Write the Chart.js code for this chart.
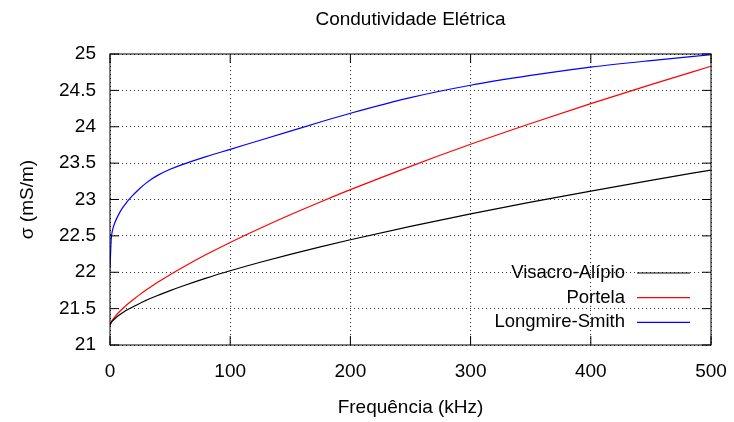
<!DOCTYPE html>
<html>
<head>
<meta charset="utf-8">
<script src="https://cdn.jsdelivr.net/npm/chart.js@4.4.1/dist/chart.umd.min.js"></script>
<style>
  html, body { margin: 0; padding: 0; background: #fff; }
  canvas { display: block; }
</style>
</head>
<body>
<canvas id="chart" width="734" height="422" style="width:734px;height:422px"></canvas>
<script>
"use strict"

// frequencia (kHz) e condutividade (mS/m)
const freq = [0, 1, 2, 4, 8, 12, 16, 20, 25, 30, 35, 40, 50, 60, 80, 100, 125, 150, 175, 200, 250, 300, 350, 400, 450, 500];
const visacroAlipio = [21.27, 21.31, 21.33, 21.36, 21.415, 21.46, 21.497, 21.533, 21.575, 21.613, 21.65, 21.683, 21.748, 21.808, 21.919, 22.02, 22.137, 22.246, 22.349, 22.447, 22.631, 22.802, 22.963, 23.116, 23.264, 23.405];
const portela = [21.27, 21.313, 21.341, 21.386, 21.46, 21.523, 21.58, 21.633, 21.696, 21.755, 21.811, 21.865, 21.967, 22.063, 22.243, 22.41, 22.605, 22.79, 22.966, 23.135, 23.456, 23.759, 24.044, 24.317, 24.579, 24.832];
const longmireSmith = [22.05, 22.45, 22.57, 22.68, 22.82, 22.92, 23.005, 23.075, 23.155, 23.225, 23.285, 23.335, 23.415, 23.48, 23.59, 23.69, 23.815, 23.94, 24.065, 24.185, 24.40, 24.57, 24.705, 24.82, 24.91, 24.99];

const seriesNames = ["Visacro-Alípio", "Portela", "Longmire-Smith"];
const seriesColors = ["#000000", "#ff0000", "#0000ff"];
const seriesValues = [visacroAlipio, portela, longmireSmith];

const FONT = "'Liberation Sans', Arial, sans-serif";

let toPoints = function(values){
    return freq.map((f, i) => ({x: f, y: values[i]}));
}

// moldura, marcas internas e legenda no estilo gnuplot
const framePlugin = {
    id: "frame",
    afterDatasetsDraw(chart){
        const ctx = chart.ctx;
        const a = chart.chartArea;
        const xs = chart.scales.x;
        const ys = chart.scales.y;
        const tl = 9;
        ctx.save();
        ctx.strokeStyle = "#000";
        ctx.lineWidth = 1;
        ctx.setLineDash([]);
        ctx.beginPath();
        ys.ticks.forEach(t => {
            const y = ys.getPixelForValue(t.value);
            ctx.moveTo(a.left, y); ctx.lineTo(a.left + tl, y);
            ctx.moveTo(a.right, y); ctx.lineTo(a.right - tl, y);
        });
        xs.ticks.forEach(t => {
            const x = xs.getPixelForValue(t.value);
            ctx.moveTo(x, a.bottom); ctx.lineTo(x, a.bottom - tl);
            ctx.moveTo(x, a.top); ctx.lineTo(x, a.top + tl);
        });
        ctx.stroke();
        ctx.strokeRect(a.left, a.top, a.right - a.left, a.bottom - a.top);

        // legenda
        ctx.font = "18.5px " + FONT;
        ctx.textAlign = "right";
        ctx.textBaseline = "middle";
        chart.data.datasets.forEach((ds, i) => {
            const y = a.bottom - 72 + i * 24.7;
            ctx.fillStyle = "#000";
            ctx.fillText(ds.label, a.right - 86, y);
            ctx.strokeStyle = ds.borderColor;
            ctx.lineWidth = 1.2;
            ctx.beginPath();
            ctx.moveTo(a.right - 74, y);
            ctx.lineTo(a.right - 21, y);
            ctx.stroke();
        });
        ctx.restore();
    }
};

let datasets = [];
seriesValues.forEach((values, i) => {
    datasets.push({
        label: seriesNames[i],
        data: toPoints(values),
        borderColor: seriesColors[i],
        backgroundColor: seriesColors[i],
        borderWidth: 1.2,
        pointRadius: 0,
        fill: false,
        cubicInterpolationMode: "monotone"
    });
});

const ctx = document.getElementById("chart").getContext("2d");
new Chart(ctx, {
    type: "line",
    data: { datasets: datasets },
    plugins: [framePlugin],
    options: {
        responsive: false,
        animation: false,
        layout: { padding: { left: 0, right: 23, top: 0, bottom: 0 } },
        plugins: {
            legend: { display: false },
            tooltip: { enabled: false },
            title: {
                display: true,
                fullSize: false,
                text: "Condutividade Elétrica",
                color: "#000",
                font: { family: FONT, size: 19, weight: "normal" },
                padding: { top: 8, bottom: 23.2 }
            }
        },
        scales: {
            x: {
                type: "linear",
                min: 0,
                max: 500,
                afterFit: s => { s.height = 77; s.paddingLeft = 0; s.paddingRight = 0; },
                ticks: {
                    stepSize: 100,
                    padding: 15,
                    color: "#000",
                    font: { family: FONT, size: 19 }
                },
                grid: { color: "#333", lineWidth: 1, drawTicks: false },
                border: { display: false, dash: [1, 3] },
                title: {
                    display: true,
                    text: "Frequência (kHz)",
                    color: "#000",
                    font: { family: FONT, size: 19 },
                    padding: { top: 4, bottom: 3 }
                }
            },
            y: {
                min: 21,
                max: 25,
                afterFit: s => { s.width = 110; s.paddingTop = 0; s.paddingBottom = 0; },
                ticks: {
                    stepSize: 0.5,
                    padding: 14,
                    color: "#000",
                    font: { family: FONT, size: 19 },
                    callback: value => String(value)
                },
                grid: { color: "#333", lineWidth: 1, drawTicks: false },
                border: { display: false, dash: [1, 3] },
                title: {
                    display: true,
                    text: "σ (mS/m)",
                    color: "#000",
                    font: { family: FONT, size: 19 },
                    padding: { top: 16, bottom: 4 }
                }
            }
        }
    }
});
</script>
</body>
</html>
